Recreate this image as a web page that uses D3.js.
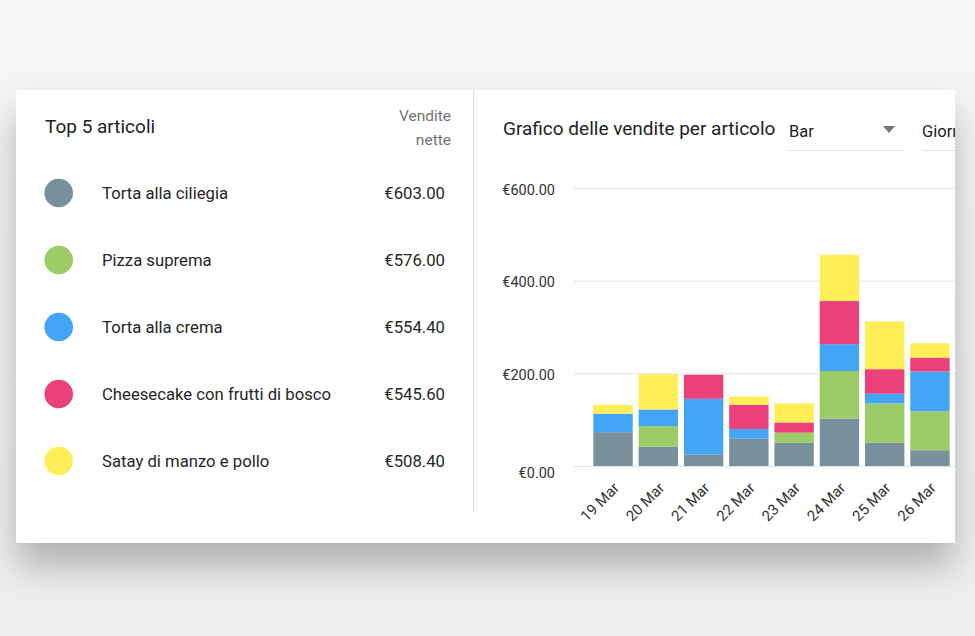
<!DOCTYPE html>
<html><head><meta charset="utf-8">
<script src="https://cdn.jsdelivr.net/npm/d3@7"></script>
<style>
html,body{margin:0;padding:0;background:#eef0f1;}
svg{display:block;font-family:Roboto,"Noto Sans",sans-serif;}
</style></head>
<body>
<svg id="c" width="975" height="636"></svg>
<script>
// ---- data ----
const items = ["Torta alla ciliegia","Pizza suprema","Torta alla crema","Cheesecake con frutti di bosco","Satay di manzo e pollo"];
const netSales = ["€603.00","€576.00","€554.40","€545.60","€508.40"];
const colors = ["#78909c","#9ccc65","#42a5f5","#ec407a","#ffee58"];
const days = ["19 Mar","20 Mar","21 Mar","22 Mar","23 Mar","24 Mar","25 Mar","26 Mar"];
const tortaCiliegia = [73, 42, 25, 59, 50, 102, 50, 34];
const pizzaSuprema  = [0, 44, 0, 0, 22, 103, 85, 84];
const tortaCrema    = [40, 36, 120, 21, 0, 58, 21, 86];
const cheesecake    = [0, 0, 52, 52, 22, 93, 53, 30];
const satay         = [19, 76, 0, 18, 41, 100, 103, 31];
const yTicks = [0, 200, 400, 600];

const series = [tortaCiliegia, pizzaSuprema, tortaCrema, cheesecake, satay];
const table = days.map((d,i)=>{const o={day:d}; items.forEach((k,j)=>o[k]=series[j][i]); return o;});

const svg = d3.select("#c");
const defs = svg.append("defs");
const bg = defs.append("linearGradient").attr("id","bg").attr("x1",0).attr("y1",0).attr("x2",0).attr("y2",1);
bg.append("stop").attr("offset","0").attr("stop-color","#f4f5f6");
bg.append("stop").attr("offset","1").attr("stop-color","#eceef0");
const f = defs.append("filter").attr("id","sh").attr("x","-10%").attr("y","-10%").attr("width","130%").attr("height","145%");
f.append("feDropShadow").attr("dx",0).attr("dy",24).attr("stdDeviation",18).attr("flood-color","#000").attr("flood-opacity",0.26);
defs.append("clipPath").attr("id","card").append("rect").attr("x",16).attr("y",90).attr("width",939).attr("height",453);

svg.append("rect").attr("width",975).attr("height",636).attr("fill","url(#bg)");
svg.append("rect").attr("x",16).attr("y",90).attr("width",939).attr("height",453).attr("fill","#fff").attr("filter","url(#sh)");

const g = svg.append("g").attr("clip-path","url(#card)");

// ---- left panel ----
g.append("text").attr("x",45).attr("y",133).attr("font-size",19).attr("fill","#222").text("Top 5 articoli");
g.append("text").attr("x",451).attr("y",121).attr("text-anchor","end").attr("font-size",15.5).attr("fill","#757575").text("Vendite");
g.append("text").attr("x",451).attr("y",145).attr("text-anchor","end").attr("font-size",15.5).attr("fill","#757575").text("nette");

const rowY = d3.scalePoint().domain(items).range([193,461]);
const rows = g.selectAll(".row").data(items).join("g").attr("transform",d=>`translate(0,${rowY(d)})`);
rows.append("circle").attr("cx",58.7).attr("cy",0).attr("r",14.3).attr("fill",(d,i)=>colors[i]);
rows.append("text").attr("x",102).attr("dy","0.35em").attr("font-size",16.7).attr("fill","#262626").text(d=>d);
rows.append("text").attr("x",445).attr("dy","0.35em").attr("text-anchor","end").attr("font-size",16.7).attr("fill","#262626").text((d,i)=>netSales[i]);

g.append("line").attr("x1",473.5).attr("x2",473.5).attr("y1",90).attr("y2",513).attr("stroke","#e0e0e0");

// ---- right panel header ----
g.append("text").attr("x",503).attr("y",135).attr("font-size",19).attr("fill","#222").text("Grafico delle vendite per articolo");
g.append("text").attr("x",789).attr("y",137).attr("font-size",16.5).attr("fill","#222").text("Bar");
g.append("path").attr("d","M883,126 L895,126 L889,133 Z").attr("fill","#757575");
g.append("line").attr("x1",789).attr("x2",903).attr("y1",150.5).attr("y2",150.5).attr("stroke","#e0e0e0");
g.append("text").attr("x",922).attr("y",137).attr("font-size",16.5).attr("fill","#222").text("Giorno");
g.append("line").attr("x1",922).attr("x2",970).attr("y1",150.5).attr("y2",150.5).attr("stroke","#e0e0e0");

// ---- chart ----
const x = d3.scaleBand().domain(days).range([590.4,952.6]).paddingInner(0.13).paddingOuter(0.065);
const y = d3.scaleLinear().domain([0,600]).range([466,188]);

const grid = g.append("g");
grid.selectAll("line").data(yTicks).join("line")
  .attr("x1",574).attr("x2",960).attr("y1",d=>y(d)+0.5).attr("y2",d=>y(d)+0.5)
  .attr("stroke","#e3e3e3");

const yAxis = g.append("g").attr("transform","translate(555,0)")
  .call(d3.axisLeft(y).tickValues(yTicks).tickSize(0).tickPadding(0).tickFormat(d=>"€"+d3.format(".2f")(d)));
yAxis.select(".domain").remove();
yAxis.selectAll("text").attr("font-size",14.5).attr("fill","#333").attr("font-family","Roboto,sans-serif").attr("dy","0.35em")
  .attr("transform",(d)=> d===0 ? "translate(0,6)" : "translate(0,1)");

const stack = d3.stack().keys(items)(table);
g.append("g").selectAll("g").data(stack).join("g").attr("fill",(d,i)=>colors[i])
  .selectAll("rect").data(d=>d).join("rect")
  .attr("x",d=>x(d.data.day)).attr("width",x.bandwidth())
  .attr("y",d=>y(d[1])).attr("height",d=>Math.max(0,y(d[0])-y(d[1])));

const xAxis = g.append("g").attr("transform","translate(0,466)")
  .call(d3.axisBottom(x).tickSize(0).tickPadding(0));
xAxis.select(".domain").remove();
xAxis.selectAll("text").attr("font-size",15).attr("fill","#333").attr("font-family","Roboto,sans-serif")
  .attr("text-anchor","end").attr("dy",0).attr("y",0)
  .attr("transform","translate(7,23) rotate(-45)");
</script>
</body></html>
